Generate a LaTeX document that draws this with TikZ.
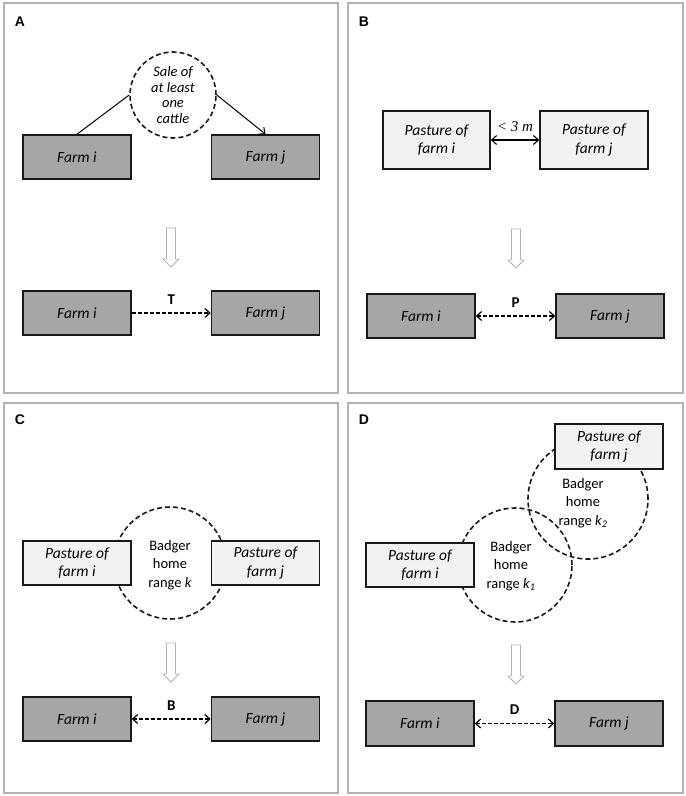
\documentclass[tikz,border=0pt]{standalone}
\usepackage{fontspec}
\setmainfont{Carlito}
\newfontfamily\arialfont{Liberation Sans}
\newfontfamily\serifit{Liberation Serif}
\usetikzlibrary{arrows.meta}
\begin{document}
\begin{tikzpicture}[x=1pt,y=-1pt,
  panel/.style={draw=black!30, line width=1.3pt},
  plabel/.style={font=\arialfont\bfseries\fontsize{14}{16}\selectfont, inner sep=0pt},
  farm/.style={draw=black!90, line width=1.6pt, fill=black!35, minimum width=108pt, minimum height=44pt, inner sep=0pt, font=\fontsize{15.5}{18}\selectfont\itshape},
  pasture/.style={draw=black!90, line width=1.6pt, fill=black!5, minimum width=108pt, minimum height=44pt, inner sep=0pt, align=center, font=\fontsize{15.5}{18.5}\selectfont\itshape},
  homerange/.style={circle, draw=black!90, line width=1.6pt, dash pattern=on 5pt off 3pt, inner sep=0pt},
  rtext/.style={align=center, font=\fontsize{14.5}{18.5}\selectfont, inner sep=0pt},
  arr/.style={-{Straight Barb[length=5pt,width=9pt]}, line width=1pt},
  darr/.style={-{Straight Barb[length=5pt,width=9pt]}, line width=1.2pt, dash pattern=on 4pt off 2pt},
  ddarr/.style={{Straight Barb[length=5pt,width=9pt]}-{Straight Barb[length=5pt,width=9pt]}, line width=1.2pt, dash pattern=on 4pt off 2pt},
  elabel/.style={font=\bfseries\fontsize{15}{17}\selectfont, inner sep=0pt},
  hollow/.pic={\draw[draw=black!30, fill=white, line width=0.9pt] (-4.5,0) -- (4.5,0) -- (4.5,31) -- (8,31) -- (0,39) -- (-8,31) -- (-4.5,31) -- cycle;}
]
\useasboundingbox (0,0) rectangle (686,796);
% panels
\draw[panel] (4,3) rectangle (338,393);
\draw[panel] (348,3) rectangle (683,393);
\draw[panel] (4,403) rectangle (338,793);
\draw[panel] (348,403) rectangle (683,793);
\node[plabel] (la) at (20,22) {A};
\node[plabel] (lb) at (364,22) {B};
\node[plabel] (lc) at (20,420) {C};
\node[plabel] (ld) at (364,420) {D};

% ---------- A ----------
\node[homerange, minimum size=86pt, align=center, font=\itshape\fontsize{14.5}{15.5}\selectfont] (sale) at (173,95) {Sale of\\at least\\one\\cattle};
\node[farm] (afi) at (77,157) {Farm i};
\node[farm] (afj) at (265.5,157) {Farm j};
\draw[line width=1pt] (afi.north) -- (sale.west);
\draw[arr] (sale.east) -- (afj.north);
\pic at (171,228) {hollow};
\node[farm] (afi2) at (77,313) {Farm i};
\node[farm] (afj2) at (265.5,313) {Farm j};
\draw[darr] (afi2.east) -- node[elabel, above=8pt] {T} (afj2.west);

% ---------- B ----------
\node[pasture, minimum width=107pt, minimum height=58pt] (bpi) at (436.5,140) {Pasture of\\farm i};
\node[pasture, minimum width=108pt, minimum height=58pt] (bpj) at (594,140) {Pasture of\\farm j};
\draw[{Straight Barb[length=5pt,width=9pt]}-{Straight Barb[length=5pt,width=9pt]}, line width=1.1pt] (bpi.east) -- node[above=8pt, inner sep=0pt, font=\serifit\itshape\fontsize{15}{17}\selectfont] {< 3 m} (bpj.west);
\pic at (516,229) {hollow};
\node[farm] (bfi) at (421,316) {Farm i};
\node[farm] (bfj) at (610,316) {Farm j};
\draw[ddarr] (bfi.east) -- node[elabel, above=8pt] {P} (bfj.west);

% ---------- C ----------
\node[homerange, minimum size=112pt] (ck) at (170,563) {};
\node[rtext] (ckt) at (170,565) {Badger\\home\\range \textit{k}};
\node[pasture] (cpi) at (77,563) {Pasture of\\farm i};
\node[pasture] (cpj) at (265.5,563) {Pasture of\\farm j};
\pic at (171,643) {hollow};
\node[farm] (cfi) at (77,719) {Farm i};
\node[farm] (cfj) at (265.5,719) {Farm j};
\draw[ddarr] (cfi.east) -- node[elabel, above=8pt] {B} (cfj.west);

% ---------- D ----------
\node[homerange, minimum size=120pt] (dk2) at (588,499) {};
\node[homerange, minimum size=114pt] (dk1) at (515,565) {};
\node[rtext] (dk2t) at (583,503) {Badger\\home\\range \textit{k}\textsubscript{\textit{2}}};
\node[rtext] (dk1t) at (511,566) {Badger\\home\\range \textit{k}\textsubscript{\textit{1}}};
\node[pasture, minimum height=45pt] (dpj) at (609,446.5) {Pasture of\\farm j};
\node[pasture] (dpi) at (420,565) {Pasture of\\farm i};
\pic at (516,645) {hollow};
\node[farm, minimum height=45pt] (dfi) at (420,723.5) {Farm i};
\node[farm, minimum height=45pt] (dfj) at (609,723.5) {Farm j};
\draw[ddarr] (dfi.east) -- node[elabel, above=8pt] {D} (dfj.west);
\end{tikzpicture}
\end{document}
